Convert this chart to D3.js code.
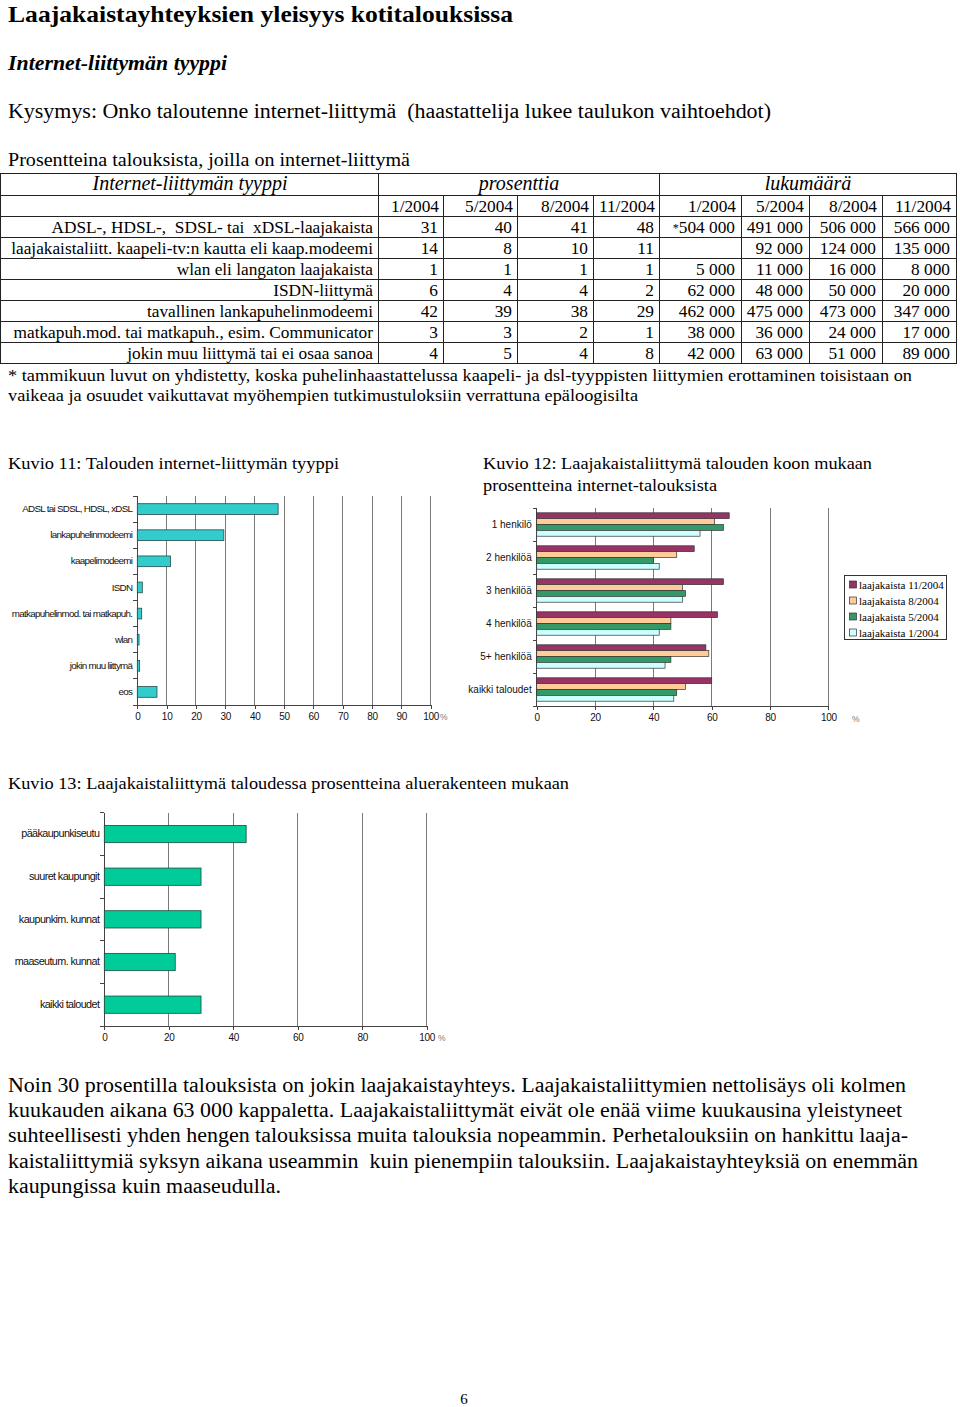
<!DOCTYPE html>
<html><head><meta charset="utf-8">
<script src="https://cdn.jsdelivr.net/npm/d3@7"></script>
<style>
html,body{margin:0;padding:0;background:#fff;}
svg{display:block;}
text{white-space:pre;}
.serif{font-family:"Liberation Serif","Times New Roman",serif;fill:#000;}
.sans{font-family:"Liberation Sans",Arial,sans-serif;fill:#000;}
</style></head>
<body>
<svg id="page" width="960" height="1407"></svg>
<script>
// ---------------- DATA ----------------
const tableDates = ["1/2004","5/2004","8/2004","11/2004"];
const tableRowLabels = [
  "ADSL-, HDSL-,  SDSL- tai  xDSL-laajakaista",
  "laajakaistaliitt. kaapeli-tv:n kautta eli kaap.modeemi",
  "wlan eli langaton laajakaista",
  "ISDN-liittymä",
  "tavallinen lankapuhelinmodeemi",
  "matkapuh.mod. tai matkapuh., esim. Communicator",
  "jokin muu liittymä tai ei osaa sanoa"
];
const tablePercent = [
  [31,40,41,48],[14,8,10,11],[1,1,1,1],[6,4,4,2],[42,39,38,29],[3,3,2,1],[4,5,4,8]
];
const tableCounts = [
  ["*504 000","491 000","506 000","566 000"],
  ["","92 000","124 000","135 000"],
  ["5 000","11 000","16 000","8 000"],
  ["62 000","48 000","50 000","20 000"],
  ["462 000","475 000","473 000","347 000"],
  ["38 000","36 000","24 000","17 000"],
  ["42 000","63 000","51 000","89 000"]
];

const k11Categories = ["ADSL tai SDSL, HDSL, xDSL","lankapuhelinmodeemi","kaapelimodeemi","ISDN","matkapuhelinmod. tai matkapuh.","wlan","jokin muu liittymä","eos"];
const k11Values = [48,29.5,11.3,1.7,1.5,0.6,0.8,6.7];
const k11Ticks = [0,10,20,30,40,50,60,70,80,90,100];

const k12Categories = ["1 henkilö","2 henkilöä","3 henkilöä","4 henkilöä","5+ henkilöä","kaikki taloudet"];
const k12Series = ["laajakaista 11/2004","laajakaista 8/2004","laajakaista 5/2004","laajakaista 1/2004"];
const k12Nov = [66,54,64,62,58,60];
const k12Aug = [61,48,50,46,59,51];
const k12May = [64,40,51,46,46,48];
const k12Jan = [56,42,50,42,44,47];
const k12Ticks = [0,20,40,60,80,100];

const k13Categories = ["pääkaupunkiseutu","suuret kaupungit","kaupunkim. kunnat","maaseutum. kunnat","kaikki taloudet"];
const k13Values = [44,30,30,22,30];
const k13Ticks = [0,20,40,60,80,100];

// ---------------- DRAW ----------------
const svg = d3.select("#page");
svg.append("rect").attr("width",960).attr("height",1407).attr("fill","#fff");

function txt(x,y,s,size,opts={}){
  const t = svg.append("text").attr("class","serif").attr("x",x).attr("y",y)
    .attr("font-size",size).text(s);
  if(opts.weight) t.attr("font-weight",opts.weight);
  if(opts.style) t.attr("font-style",opts.style);
  if(opts.anchor) t.attr("text-anchor",opts.anchor);
  if(opts.len) t.attr("textLength",opts.len).attr("lengthAdjust","spacingAndGlyphs");
  return t;
}

txt(8,22,"Laajakaistayhteyksien yleisyys kotitalouksissa",24,{weight:"bold",len:505});
txt(8,70,"Internet-liittymän tyyppi",20,{weight:"bold",style:"italic",len:219});
txt(8,118,"Kysymys: Onko taloutenne internet-liittymä  (haastattelija lukee taulukon vaihtoehdot)",20,{len:763});
txt(8,166,"Prosentteina talouksista, joilla on internet-liittymä",18,{len:402});

// ---- table ----
const TS = 17.3;
const colX = [0,378,443,517,593,659,741,809,882,956];
const rowY = [173,195,216.5,237.5,258.5,279.5,300.5,321.5,342.5,363.5];
const tg = svg.append("g").attr("stroke","#222").attr("stroke-width",1).attr("shape-rendering","crispEdges");
rowY.forEach(y=>tg.append("line").attr("x1",colX[0]).attr("x2",colX[9]).attr("y1",y).attr("y2",y));
[0,378,659,956].forEach(x=>tg.append("line").attr("x1",x).attr("x2",x).attr("y1",rowY[0]).attr("y2",rowY[9]));
colX.slice(2,9).filter(x=>x!==659).forEach(x=>tg.append("line").attr("x1",x).attr("x2",x).attr("y1",rowY[1]).attr("y2",rowY[9]));
txt(190,190,"Internet-liittymän tyyppi",20,{style:"italic",anchor:"middle"});
txt(519,190,"prosenttia",20,{style:"italic",anchor:"middle"});
txt(808,190,"lukumäärä",20,{style:"italic",anchor:"middle"});
tableDates.forEach((d,i)=>{
  txt(colX[i+2]-4,212,d,TS,{anchor:"end"});
  txt(colX[i+6]-5,212,d,TS,{anchor:"end"});
});
tableRowLabels.forEach((lab,r)=>{
  const yb = rowY[r+2]+16;
  txt(373,yb,lab,TS,{anchor:"end"});
  tablePercent[r].forEach((v,i)=>txt(colX[i+2]-5,yb,String(v),TS,{anchor:"end"}));
  tableCounts[r].forEach((v,i)=>{
    if(!v) return;
    if(v[0]==="*"){
      const t = txt(colX[i+6]-6,yb,"",TS,{anchor:"end"});
      t.append("tspan").attr("font-size",12).attr("dy",-1).text("*");
      t.append("tspan").attr("dy",1).text(v.slice(1));
    } else txt(colX[i+6]-6,yb,v,TS,{anchor:"end"});
  });
});

txt(8,381,"* tammikuun luvut on yhdistetty, koska puhelinhaastattelussa kaapeli- ja dsl-tyyppisten liittymien erottaminen toisistaan on",17,{len:904});
txt(8,401,"vaikeaa ja osuudet vaikuttavat myöhempien tutkimustuloksiin verrattuna epäloogisilta",17,{len:630});

txt(8,469,"Kuvio 11: Talouden internet-liittymän tyyppi",17,{len:331});
txt(483,469,"Kuvio 12: Laajakaistaliittymä talouden koon mukaan",17,{len:389});
txt(483,491,"prosentteina internet-talouksista",17,{len:234});
txt(8,789,"Kuvio 13: Laajakaistaliittymä taloudessa prosentteina aluerakenteen mukaan",17,{len:561});

// ---- generic horizontal bar chart frame ----
function drawFrame(g, x, y, ticks, top, bottom, labelFont, labelSpacing, pctX, pctY){
  g.selectAll("line.grid").data(ticks.filter(t=>t>0)).enter().append("line")
    .attr("x1",d=>x(d)).attr("x2",d=>x(d)).attr("y1",top).attr("y2",bottom)
    .attr("stroke","#7a7a7a").attr("stroke-width",1).attr("shape-rendering","crispEdges");
  const ax = g.append("g").attr("transform",`translate(0,${bottom})`)
    .call(d3.axisBottom(x).tickValues(ticks).tickSize(4).tickSizeOuter(0).tickPadding(4));
  ax.select(".domain").attr("stroke","#444").attr("shape-rendering","crispEdges");
  ax.selectAll(".tick line").attr("stroke","#444").attr("shape-rendering","crispEdges");
  ax.selectAll("text").attr("font-family","Liberation Sans, Arial, sans-serif")
    .attr("font-size",10).attr("fill","#111").attr("letter-spacing",-0.3);
  const x0 = x.range()[0];
  g.append("line").attr("x1",x0).attr("x2",x0).attr("y1",top).attr("y2",bottom)
    .attr("stroke","#444").attr("shape-rendering","crispEdges");
  const step = y.step();
  const b0 = y.range()[0];
  for(let i=0;i<=y.domain().length;i++){
    const yy = b0 + i*step;
    g.append("line").attr("x1",x0-4).attr("x2",x0).attr("y1",yy).attr("y2",yy)
      .attr("stroke","#444").attr("shape-rendering","crispEdges");
  }
  const ay = g.append("g").attr("transform",`translate(${x0},0)`)
    .call(d3.axisLeft(y).tickSize(0).tickPadding(5));
  ay.select(".domain").remove();
  ay.selectAll("text").attr("font-family","Liberation Sans, Arial, sans-serif")
    .attr("font-size",labelFont).attr("fill","#111").attr("letter-spacing",labelSpacing);
  g.append("text").attr("x",pctX).attr("y",pctY).attr("font-family","Liberation Sans, Arial, sans-serif")
    .attr("font-size",8.5).attr("fill","#777").text("%");
}

// ---- Kuvio 11 ----
{
  const g = svg.append("g");
  const x = d3.scaleLinear().domain([0,100]).range([137.3,430.7]);
  const y = d3.scaleBand().domain(k11Categories).range([496,705]).paddingInner(0.59).paddingOuter(0.295);
  drawFrame(g,x,y,k11Ticks,496,705,9.8,-0.7,440,720);
  g.selectAll("rect.bar").data(k11Values).enter().append("rect")
    .attr("x",x(0)).attr("y",(d,i)=>y(k11Categories[i]))
    .attr("width",d=>x(d)-x(0)).attr("height",y.bandwidth())
    .attr("fill","#33CCCC").attr("stroke","#2a4a4a").attr("stroke-width",0.8);
}

// ---- Kuvio 12 ----
{
  const g = svg.append("g");
  const x = d3.scaleLinear().domain([0,100]).range([536.7,828.4]);
  const y = d3.scaleBand().domain(k12Categories).range([508,706]).paddingInner(0.29).paddingOuter(0.145);
  const sub = d3.scaleBand().domain(k12Series).range([0,y.bandwidth()]);
  drawFrame(g,x,y,k12Ticks,508,706,10,0,852,722);
  const colors = ["#993366","#FFCC99","#339966","#CCFFFF"];
  const seriesVals = [k12Nov,k12Aug,k12May,k12Jan];
  seriesVals.forEach((vals,si)=>{
    g.selectAll(null).data(vals).enter().append("rect")
      .attr("x",x(0)).attr("y",(d,i)=>y(k12Categories[i])+sub(k12Series[si]))
      .attr("width",d=>x(d)-x(0)).attr("height",sub.bandwidth())
      .attr("fill",colors[si]).attr("stroke","#333").attr("stroke-width",0.7);
  });
  const lg = svg.append("g");
  lg.append("rect").attr("x",844.5).attr("y",575.5).attr("width",102).attr("height",64)
    .attr("fill","#fff").attr("stroke","#333").attr("stroke-width",1);
  k12Series.forEach((s,i)=>{
    const yy = 584.5 + i*16;
    lg.append("rect").attr("x",849.5).attr("y",yy-3.5).attr("width",7).attr("height",7)
      .attr("fill",colors[i]).attr("stroke","#333").attr("stroke-width",0.7);
    lg.append("text").attr("class","serif").attr("x",859).attr("y",yy+4)
      .attr("font-size",11).text(s);
  });
}

// ---- Kuvio 13 ----
{
  const g = svg.append("g");
  const x = d3.scaleLinear().domain([0,100]).range([104.3,426.7]);
  const y = d3.scaleBand().domain(k13Categories).range([812.7,1026]).paddingInner(0.595).paddingOuter(0.2975);
  drawFrame(g,x,y,k13Ticks,812.7,1026,10.8,-0.6,438,1041);
  g.selectAll("rect.bar").data(k13Values).enter().append("rect")
    .attr("x",x(0)).attr("y",(d,i)=>y(k13Categories[i]))
    .attr("width",d=>x(d)-x(0)).attr("height",y.bandwidth())
    .attr("fill","#00CC99").attr("stroke","#1f4a3c").attr("stroke-width",0.8);
}

// ---- body text ----
const bodyLines = [
  ["Noin 30 prosentilla talouksista on jokin laajakaistayhteys. Laajakaistaliittymien nettolisäys oli kolmen",898],
  ["kuukauden aikana 63 000 kappaletta. Laajakaistaliittymät eivät ole enää viime kuukausina yleistyneet",894],
  ["suhteellisesti yhden hengen talouksissa muita talouksia nopeammin. Perhetalouksiin on hankittu laaja-",900],
  ["kaistaliittymiä syksyn aikana useammin  kuin pienempiin talouksiin. Laajakaistayhteyksiä on enemmän",910],
  ["kaupungissa kuin maaseudulla.",273]
];
bodyLines.forEach((l,i)=>txt(8,1092+i*25.2,l[0],20,{len:l[1]}));

txt(464,1404,"6",15,{anchor:"middle"});
</script>
</body></html>
